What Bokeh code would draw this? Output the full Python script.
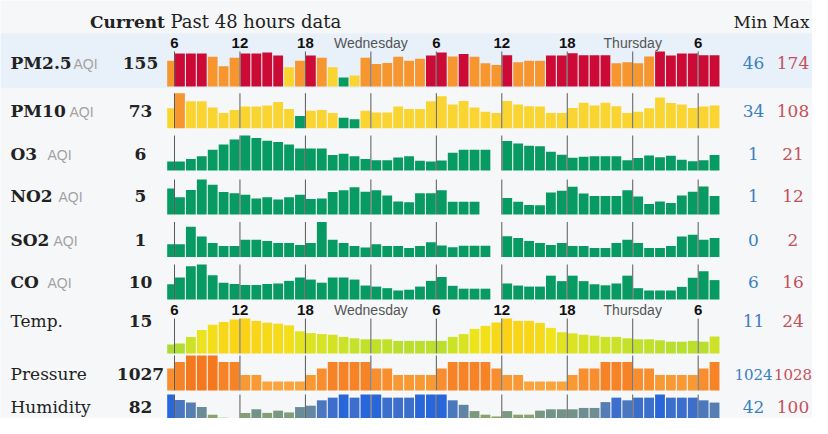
from bokeh.plotting import figure
from bokeh.models import Range1d
from bokeh.embed import file_html
from bokeh.resources import INLINE
from bokeh.core.properties import value

# ---------------- data ----------------
row_names = ["PM2.5", "PM10", "O3", "NO2", "SO2", "CO", "Temp.", "Pressure", "Humidity"]
row_is_aqi = [True, True, True, True, True, True, False, False, False]
current = ["155", "73", "6", "5", "1", "10", "15", "1027", "82"]
row_min = [46, 34, 1, 1, 0, 6, 11, 1024, 42]
row_max = [174, 108, 21, 12, 2, 16, 24, 1028, 100]

# hourly readings, hour 0 = first (partly visible) bar, last = current hour
pm25 = [128, 164, 164, 164, 148, 102, 143, 164, 164, 169,
        154, 97, 128, 154, 143, 97, 46, 56, 143, 113,
        118, 148, 128, 138, 154, 169, 150, 162, 148, 116,
        107, 155, 121, 128, 128, 154, 154, 166, 155, 155,
        155, 116, 121, 116, 150, 174, 154, 164, 164, 155, 155]
pm10 = [65, 108, 85, 85, 67, 52, 60, 70, 70, 73,
        83, 63, 43, 58, 60, 52, 38, 34, 58, 53,
        53, 70, 63, 63, 85, 99, 76, 86, 67, 55,
        52, 86, 76, 71, 70, 52, 52, 66, 81, 73,
        81, 71, 52, 55, 65, 96, 80, 76, 66, 70, 73]
o3 = [1, 1, 3, 5, 10, 14, 18, 21, 19, 17,
      16, 14, 11, 11, 11, 6, 7, 5, 3, 2,
      2, 4, 5, 1.5, 1, 1.8, 7.7, 10, 10, 10,
      None, 16.8, 14.8, 13.2, 12.7, 8.5, 6.2, 3.9, 4.7, 5.1,
      5.1, 5.1, 2, 3.6, 5.7, 4.3, 5.4, 2.3, 1.2, 2, 6]
no2 = [8.2, 4.5, 7.6, 12, 9.8, 6.7, 6.2, 5.6, 4, 4.5,
       3.5, 4.5, 5.6, 3.7, 4, 6.7, 7.4, 8.7, 6.8, 7.4,
       5.2, 2.7, 2.4, 6.2, 6.2, 7.4, 2.6, 2.6, 2.6, None,
       None, 4.2, 2.6, 1.2, 1.1, 6.5, 7.2, 8.9, 6.1, 5,
       5, 5, 7.4, 4.8, 1.6, 2.7, 2.1, 5.2, 6.8, 9, 5]
so2 = [0.28, 0.28, 1.64, 0.89, 0.38, 0.15, 0.15, 0.64, 0.64, 0.53,
       0.38, 0.38, 0.23, 0.38, 2.0, 0.64, 0.38, 0.15, 0.03, 0.28,
       0.15, 0.15, 0.0, 0.15, 0.45, 0.2, 0.05, 0.18, 0.18, 0.18,
       None, 0.91, 0.76, 0.53, 0.38, 0.23, 0.38, 0.15, 0.15, 0.0,
       0.0, 0.38, 0.64, 0.38, 0.0, 0.0, 0.15, 0.89, 1.02, 0.64, 0.76]
co = [8.4, 11, 15.3, 16, 11.9, 9, 8.5, 8.1, 8.1, 8.5,
      8.7, 9.7, 11, 10.2, 9, 11, 11, 10.2, 7.9, 7.5,
      6.9, 6, 6.3, 7.5, 9.7, 11.2, 7.8, 6.7, 6.7, 6.7,
      None, 8.7, 7.9, 7.5, 7.5, 11.7, 9.6, 11.7, 9.6, 8.4,
      8, 8.7, 11.7, 6.9, 6, 6, 6, 7.4, 10.9, 13.4, 10]
temp = [11, 11.5, 14.8, 18.3, 20.9, 22.3, 23.5, 24, 22.8, 21.9,
        21.4, 20.6, 17.6, 16.7, 16.2, 15.9, 14.8, 14.1, 13.6, 13.6,
        13.6, 12.8, 12.8, 12.8, 12.8, 12.8, 14.8, 16.2, 18.8, 20.3,
        22, 24, 22.8, 22.8, 21.8, 19.3, 17.1, 16.6, 15.9, 15.4,
        14.8, 14.8, 14.1, 13.6, 13.6, 13.1, 12.4, 12.4, 12.8, 12.4, 15]
pressure = [1026, 1027, 1028, 1028, 1028, 1027, 1027, 1025, 1025, 1024,
            1024, 1024, 1024, 1025, 1026, 1027, 1027, 1027, 1027, 1026,
            1026, 1025, 1025, 1025, 1025, 1026, 1027, 1027, 1027, 1027,
            1026, 1025, 1025, 1024, 1024, 1024, 1024, 1025, 1026, 1026,
            1027, 1027, 1027, 1026, 1026, 1025, 1025, 1025, 1025, 1026, 1027]
humidity = [100, 88, 82, 72, 55, 48, 42, 59, 67, 59,
            64, 60, 72, 75, 87, 93, 100, 93, 100, 100,
            93, 93, 93, 100, 100, 100, 87, 77, 63, 55,
            51, 63, 55, 55, 64, 67, 67, 67, 70, 70,
            83, 93, 87, 93, 93, 100, 93, 93, 93, 87, 82]
series = [pm25, pm10, o3, no2, so2, co, temp, pressure, humidity]

window_start = 0.33          # hour at which the 48 h window begins
tick_hours = [1, 7, 13, 19, 25, 31, 37, 43, 49]
tick_labels = ["6", "12", "18", "Wednesday", "6", "12", "18", "Thursday", "6"]

# ---------------- layout (pixels) ----------------
W, H = 812, 418
PX_PER_HOUR = 10.91
HOUR0_X = 174 - PX_PER_HOUR      # pixel x of hour 0
baselines = [86, 127.7, 170, 214, 256.5, 299, 353, 390, 429]
label_y = [62, 110, 153.5, 195.5, 239, 281, 320, 373.5, 406]
aqi_x = [73, 69, 47, 58, 53, 47]
tick_label_y = [42.5, 309.5]
HMIN, HMAX, TICK_LEN = 9.0, 35.0, 35.0
BAR_GAP = 0.1
MIN_X, MAX_X = 753, 792.5

SERIF = "DejaVu Serif"
SANS = "Liberation Sans"
BG = "#f6f7f9"
TEXT = "#222222"

# ---------------- colours ----------------
def aqi_color(v):
    if v <= 50:
        return "#079a62"
    if v <= 100:
        return "#fad531"
    if v <= 150:
        return "#f7952f"
    return "#cc0a36"


def interp(stops):
    def f(v):
        if v <= stops[0][0]:
            c = stops[0][1]
        elif v >= stops[-1][0]:
            c = stops[-1][1]
        else:
            for (a, ca), (b, cb) in zip(stops[:-1], stops[1:]):
                if a <= v <= b:
                    t = (v - a) / (b - a)
                    c = tuple(int(round(ca[k] + (cb[k] - ca[k]) * t)) for k in range(3))
                    break
        return "#%02x%02x%02x" % c
    return f


temp_color = interp([(11, (172, 220, 50)), (15, (205, 226, 38)), (19, (240, 228, 28)), (24, (251, 210, 22))])
pres_color = interp([(1024, (251, 164, 60)), (1028, (244, 120, 30))])
hum_color = interp([(42, (152, 170, 88)), (55, (138, 162, 110)), (65, (120, 150, 130)),
                    (75, (100, 135, 162)), (88, (72, 118, 192)), (100, (40, 102, 218))])
color_funcs = [aqi_color] * 6 + [temp_color, pres_color, hum_color]

# ---------------- figure ----------------
x_start = (0 - HOUR0_X) / PX_PER_HOUR
x_end = (W - HOUR0_X) / PX_PER_HOUR
p = figure(width=W, height=H, x_range=Range1d(x_start, x_end), y_range=Range1d(H, 0),
           output_backend="svg", toolbar_location=None, min_border=0)
p.axis.visible = False
p.grid.visible = False
p.outline_line_color = None
p.background_fill_color = BG
p.border_fill_color = BG
p.extra_x_ranges = {"px": Range1d(0, W)}

# highlighted (hovered) first row
p.quad(left=[0], right=[W], top=[33], bottom=[87.5], x_range_name="px",
       fill_color="#e8f0f9", line_color=None)

ranges = {}
for r, vals in enumerate(series):
    vmin, vmax = row_min[r], row_max[r]
    s = (HMAX - HMIN) / (vmax - vmin)       # px per unit
    v0 = vmin - HMIN / s                    # value at the baseline
    B = baselines[r]
    name = "row%d" % r
    ranges[name] = Range1d(v0 - (H - B) / s, v0 + B / s)
    p.extra_y_ranges = dict(ranges)
    hrs = [i for i, v in enumerate(vals) if v is not None]
    vv = [vals[i] for i in hrs]
    left = [max(i + BAR_GAP / 2, window_start) for i in hrs]
    right = [i + 1 - BAR_GAP / 2 for i in hrs]
    cols = [color_funcs[r](v) for v in vv]
    p.quad(left=left, right=right, bottom=[v0] * len(vv), top=vv, y_range_name=name,
           fill_color=cols, line_color=None)
    p.segment(x0=tick_hours, x1=tick_hours, y0=[B] * len(tick_hours),
              y1=[B - TICK_LEN] * len(tick_hours), line_color="#5a5a5a", line_width=1)

# hour tick labels
for ty in tick_label_y:
    num = [(h, t) for h, t in zip(tick_hours, tick_labels) if t.isdigit()]
    day = [(h, t) for h, t in zip(tick_hours, tick_labels) if not t.isdigit()]
    p.text(x=[h for h, _ in num], y=[ty] * len(num), text=[t for _, t in num],
           text_font=value(SANS), text_font_size="15px", text_font_style="bold",
           text_color="#111111", text_align="center", text_baseline="middle")
    p.text(x=[h for h, _ in day], y=[ty] * len(day), text=[t for _, t in day],
           text_font=value(SANS), text_font_size="14px", text_font_style="normal",
           text_color="#555555", text_align="center", text_baseline="middle")

# header
p.text(x=[127], y=[21], text=["Current"], x_range_name="px", text_font=value(SERIF),
       text_font_size="17px", text_font_style="bold", text_color=TEXT,
       text_align="center", text_baseline="middle")
p.text(x=[170], y=[21], text=["Past 48 hours data"], x_range_name="px", text_font=value(SERIF),
       text_font_size="18px", text_color=TEXT, text_align="left", text_baseline="middle")
p.text(x=[MIN_X - 3, MAX_X - 2], y=[21, 21], text=["Min", "Max"], x_range_name="px",
       text_font=value(SERIF), text_font_size="17px", text_color=TEXT,
       text_align="center", text_baseline="middle")

# row labels
for r, name in enumerate(row_names):
    y = label_y[r]
    p.text(x=[10], y=[y], text=[name], x_range_name="px", text_font=value(SERIF),
           text_font_size="17px", text_font_style="bold" if row_is_aqi[r] else "normal",
           text_color=TEXT, text_align="left", text_baseline="middle")
    if row_is_aqi[r]:
        p.text(x=[aqi_x[r]], y=[y + 1], text=["AQI"], x_range_name="px", text_font=value(SANS),
               text_font_size="14px", text_color="#a2a2a2", text_align="left",
               text_baseline="middle")
    p.text(x=[140], y=[y], text=[current[r]], x_range_name="px", text_font=value(SERIF),
           text_font_size="17px", text_font_style="bold", text_color=TEXT,
           text_align="center", text_baseline="middle")
    mm_size = "15px" if len(str(row_max[r])) > 3 else "17px"
    p.text(x=[MIN_X], y=[y], text=[str(row_min[r])], x_range_name="px", text_font=value(SERIF),
           text_font_size=mm_size, text_color="#3a80c2", text_align="center",
           text_baseline="middle")
    p.text(x=[MAX_X], y=[y], text=[str(row_max[r])], x_range_name="px", text_font=value(SERIF),
           text_font_size=mm_size, text_color="#c4505a", text_align="center",
           text_baseline="middle")

open("out.html", "w").write(file_html(p, INLINE))
